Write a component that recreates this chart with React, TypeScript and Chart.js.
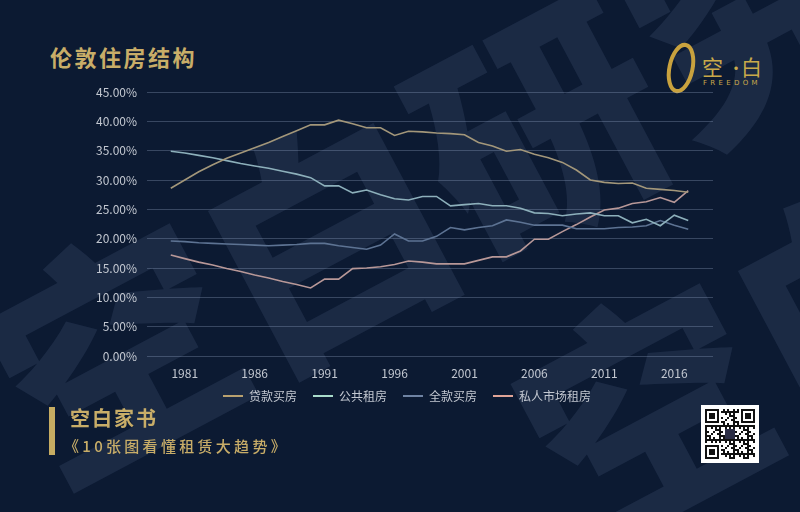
import React, { useEffect, useRef } from "react";
import { Chart, registerables } from "chart.js";

Chart.register(...registerables);

const years = [
  1980, 1981, 1982, 1983, 1984, 1985, 1986, 1987, 1988, 1989,
  1990, 1991, 1992, 1993, 1994, 1995, 1996, 1997, 1998, 1999,
  2000, 2001, 2002, 2003, 2004, 2005, 2006, 2007, 2008, 2009,
  2010, 2011, 2012, 2013, 2014, 2015, 2016, 2017,
];

const loanBuy = [
  28.6, 30.0, 31.4, 32.6, 33.7, 34.6, 35.5, 36.4, 37.4, 38.4,
  39.4, 39.4, 40.2, 39.6, 38.9, 38.9, 37.6, 38.3, 38.2, 38.0,
  37.9, 37.7, 36.4, 35.8, 34.9, 35.2, 34.4, 33.8, 33.0, 31.7,
  30.0, 29.6, 29.4, 29.5, 28.6, 28.4, 28.2, 27.9,
];

const publicRent = [
  34.9, 34.6, 34.2, 33.8, 33.3, 32.8, 32.4, 32.0, 31.5, 31.0,
  30.4, 29.0, 29.0, 27.8, 28.3, 27.5, 26.8, 26.6, 27.2, 27.2,
  25.6, 25.8, 26.0, 25.6, 25.6, 25.2, 24.4, 24.3, 23.9, 24.2,
  24.4, 23.9, 23.9, 22.7, 23.3, 22.2, 24.0, 23.1,
];

const cashBuy = [
  19.6, 19.5, 19.3, 19.2, 19.1, 19.0, 18.9, 18.8, 18.9, 19.0,
  19.2, 19.2, 18.8, 18.5, 18.2, 18.9, 20.8, 19.6, 19.6, 20.4,
  21.9, 21.5, 21.9, 22.2, 23.2, 22.8, 22.3, 22.3, 22.3, 21.7,
  21.7, 21.7, 21.9, 22.0, 22.2, 23.1, 22.3, 21.6,
];

const privateRent = [
  17.2, 16.6, 16.0, 15.5, 14.9, 14.4, 13.8, 13.3, 12.7, 12.2,
  11.6, 13.1, 13.1, 14.9, 15.0, 15.2, 15.6, 16.2, 16.0, 15.7,
  15.7, 15.7, 16.3, 16.9, 16.9, 17.9, 19.9, 19.9, 21.2, 22.4,
  23.7, 24.9, 25.2, 26.0, 26.3, 27.0, 26.2, 28.2,
];

const seriesNames = ["贷款买房", "公共租房", "全款买房", "私人市场租房"];
const tickYears = [1981, 1986, 1991, 1996, 2001, 2006, 2011, 2016];

const lineColors = ["#a3977a", "#8db0bb", "#5d7393", "#b89898"];
const legendColors = ["#b9a16f", "#a9dccb", "#6f83a3", "#e0a497"];

const GOLD = "#c8ad68";
const FONT = '"Noto Sans CJK SC", "Noto Sans", sans-serif';
const TEXT = "#c3c8d1";

function QRCode() {
  const n = 25;
  const s = 2;
  const off = 4;
  const rects: React.ReactNode[] = [];
  const inFinder = (r: number, c: number) =>
    (r < 8 && c < 8) || (r < 8 && c >= n - 8) || (r >= n - 8 && c < 8);
  for (let r = 0; r < n; r++) {
    for (let c = 0; c < n; c++) {
      if (inFinder(r, c)) continue;
      if (r >= 10 && r <= 14 && c >= 10 && c <= 14) continue;
      if ((r * 7 + c * 11 + r * c * 3) % 7 < 3) {
        rects.push(
          <rect key={`${r}-${c}`} x={off + c * s} y={off + r * s} width={s} height={s} fill="#111" />
        );
      }
    }
  }
  const finder = (r: number, c: number) => (
    <g key={`f${r}${c}`}>
      <rect x={off + c * s} y={off + r * s} width={7 * s} height={7 * s} fill="#111" />
      <rect x={off + (c + 1) * s} y={off + (r + 1) * s} width={5 * s} height={5 * s} fill="#fff" />
      <rect x={off + (c + 2) * s} y={off + (r + 2) * s} width={3 * s} height={3 * s} fill="#111" />
    </g>
  );
  return (
    <svg width={58} height={58} style={{ position: "absolute", left: 701, top: 405 }}>
      <rect x={0} y={0} width={58} height={58} fill="#ffffff" />
      {rects}
      {finder(0, 0)}
      {finder(0, n - 7)}
      {finder(n - 7, 0)}
      <rect x={off + 10 * s} y={off + 10 * s} width={5 * s} height={5 * s} fill="#2b2d45" />
    </svg>
  );
}

function Watermark() {
  const common: React.CSSProperties = {
    position: "absolute",
    fontSize: 240,
    lineHeight: "300px",
    fontWeight: 900,
    color: "rgba(120,145,185,0.14)",
    whiteSpace: "nowrap",
    transform: "rotate(-28deg)",
    transformOrigin: "0 0",
    fontFamily: FONT,
  };
  return (
    <>
      <div style={{ ...common, left: -66, top: 264 }}>空白研究</div>
      <div style={{ ...common, left: 464, top: 324 }}>空白</div>
    </>
  );
}

const legendShift = {
  id: "legendShift",
  afterLayout(chart: any) {
    const lg = chart.legend;
    if (!lg) return;
    lg.left += 3.5;
    lg.right += 3.5;
    lg.top -= 12;
    lg.bottom -= 12;
  },
};

export default function App() {
  const ref = useRef<HTMLCanvasElement | null>(null);

  useEffect(() => {
    document.body.style.margin = "0";
    const seriesValues = [loanBuy, publicRent, cashBuy, privateRent];
    const chart = new Chart(ref.current as HTMLCanvasElement, {
      type: "line",
      data: {
        labels: years,
        datasets: seriesNames.map((name, i) => ({
          label: name,
          data: seriesValues[i],
          borderColor: lineColors[i],
          backgroundColor: lineColors[i],
          borderWidth: 1.6,
          pointRadius: 0,
          tension: 0,
          fill: false,
        })),
      },
      plugins: [legendShift],
      options: {
        animation: false,
        responsive: false,
        devicePixelRatio: 1,
        layout: { padding: { left: 94, right: 87, top: 92, bottom: 88 } },
        scales: {
          x: {
            type: "linear",
            min: 1978.3,
            max: 2018.77,
            grid: { display: false },
            border: { display: false },
            afterBuildTicks: (scale: any) => {
              scale.ticks = tickYears.map((v) => ({ value: v }));
            },
            afterFit: (scale: any) => {
              scale.height = 30;
            },
            ticks: {
              autoSkip: false,
              maxRotation: 0,
              padding: 2,
              color: TEXT,
              font: { size: 12, family: FONT },
              callback: (v: any) => String(v),
            },
          },
          y: {
            min: 0,
            max: 45,
            grid: { color: "rgba(150,168,198,0.32)", drawTicks: false, lineWidth: 1 },
            border: { display: false },
            afterFit: (scale: any) => {
              scale.width = 53;
            },
            ticks: {
              stepSize: 5,
              padding: 10,
              color: TEXT,
              font: { size: 12, family: FONT },
              callback: (v: any) => Number(v).toFixed(2) + "%",
            },
          },
        },
        plugins: {
          tooltip: { enabled: false },
          legend: {
            position: "bottom",
            labels: {
              usePointStyle: true,
              pointStyle: "line",
              pointStyleWidth: 20,
              padding: 16,
              color: TEXT,
              font: { size: 12, family: FONT },
              generateLabels: (c: any) => {
                const items = (Chart.defaults.plugins.legend.labels as any).generateLabels(c);
                items.forEach((it: any, i: number) => {
                  it.strokeStyle = legendColors[i];
                  it.fillStyle = legendColors[i];
                  it.lineWidth = 2;
                });
                return items;
              },
            },
          },
        },
      } as any,
    });
    return () => chart.destroy();
  }, []);

  const logoText: React.CSSProperties = {
    position: "absolute",
    top: 52,
    fontSize: 21,
    color: "#c9a94a",
    lineHeight: "28px",
    whiteSpace: "nowrap",
  };

  return (
    <div
      style={{
        position: "fixed",
        left: 0,
        top: 0,
        width: 800,
        height: 512,
        overflow: "hidden",
        background: "#0c1a32",
        fontFamily: FONT,
      }}
    >
      <Watermark />
      <div
        style={{
          position: "absolute",
          left: 50,
          top: 41,
          fontSize: 22,
          fontWeight: 700,
          letterSpacing: 2.5,
          color: GOLD,
          lineHeight: "30px",
          whiteSpace: "nowrap",
        }}
      >
        伦敦住房结构
      </div>

      {/* logo */}
      <svg width={40} height={60} style={{ position: "absolute", left: 662, top: 39 }}>
        <ellipse cx={19} cy={29} rx={11.5} ry={23.5} fill="none" stroke="#c9a23e" strokeWidth={4}
          transform="rotate(12 19 29)" />
      </svg>
      <div style={{ ...logoText, left: 702 }}>空</div>
      <div style={{ ...logoText, left: 728, fontSize: 16, top: 53 }}>·</div>
      <div style={{ ...logoText, left: 741 }}>白</div>
      <div
        style={{
          position: "absolute",
          left: 703,
          top: 79,
          fontSize: 7,
          color: "#c9a94a",
          lineHeight: "9px",
          letterSpacing: 3.3,
          fontFamily: '"DejaVu Sans", sans-serif',
        }}
      >
        FREEDOM
      </div>

      <canvas ref={ref} width={800} height={512} style={{ position: "absolute", left: 0, top: 0 }} />

      {/* footer */}
      <div style={{ position: "absolute", left: 49, top: 407, width: 6, height: 48, background: "#c6ac62" }} />
      <div
        style={{
          position: "absolute",
          left: 70,
          top: 404,
          fontSize: 20,
          fontWeight: 700,
          letterSpacing: 2,
          color: GOLD,
          lineHeight: "28px",
          whiteSpace: "nowrap",
        }}
      >
        空白家书
      </div>
      <div
        style={{
          position: "absolute",
          left: 64,
          top: 436,
          fontSize: 15,
          fontWeight: 500,
          letterSpacing: 3.3,
          color: GOLD,
          lineHeight: "20px",
          whiteSpace: "nowrap",
        }}
      >
        《10张图看懂租赁大趋势》
      </div>
      <QRCode />
    </div>
  );
}
